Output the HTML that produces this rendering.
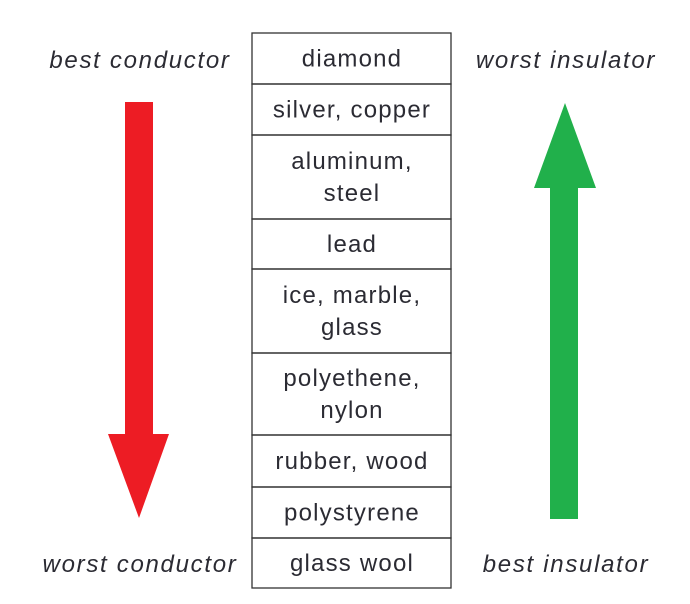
<!DOCTYPE html>
<html><head><meta charset="utf-8"><style>
body{margin:0;background:#fff}
svg{display:block;font-family:"Liberation Sans",sans-serif}
</style></head><body>
<svg width="690" height="604" viewBox="0 0 690 604">
<g font-size="24" fill="#2b2b33" font-style="italic" text-anchor="middle" letter-spacing="1.7">
<text x="140" y="68">best conductor</text>
<text x="140" y="572">worst conductor</text>
<text x="566" y="68">worst insulator</text>
<text x="566" y="572">best insulator</text>
</g>
<polygon fill="#ed1c24" points="125,102 153,102 153,434 169,434 139,518 108,434 125,434"/>
<polygon fill="#21b04b" points="550,519 578,519 578,188 596,188 565,103 534,188 550,188"/>
<g id="tbl"></g>
</svg>
<script>
const labels=[["diamond"],["silver, copper"],["aluminum,","steel"],["lead"],["ice, marble,","glass"],["polyethene,","nylon"],["rubber, wood"],["polystyrene"],["glass wool"]];
const edges=[33,84,135,219,269,353,435,487,538,588];
const g=document.getElementById('tbl');const ns='http://www.w3.org/2000/svg';
labels.forEach((l,i)=>{
 const r=document.createElementNS(ns,'rect');
 
 
 r.setAttribute('x',252);r.setAttribute('y',edges[i]);r.setAttribute('width',199);r.setAttribute('height',edges[i+1]-edges[i]);
 r.setAttribute('fill','none');r.setAttribute('stroke','#333');r.setAttribute('stroke-width','1.3');
 g.appendChild(r);
 const mid=(edges[i]+edges[i+1])/2;
 l.forEach((s,j)=>{
  const t=document.createElementNS(ns,'text');
  
  
  t.setAttribute('x',352);t.setAttribute('y',mid+8+(j-(l.length-1)/2)*32);
  t.setAttribute('text-anchor','middle');t.setAttribute('font-size','24');t.setAttribute('letter-spacing','1.2');t.setAttribute('fill','#2b2b33');
  t.textContent=s;g.appendChild(t);
 });
});
</script>
</body></html>
